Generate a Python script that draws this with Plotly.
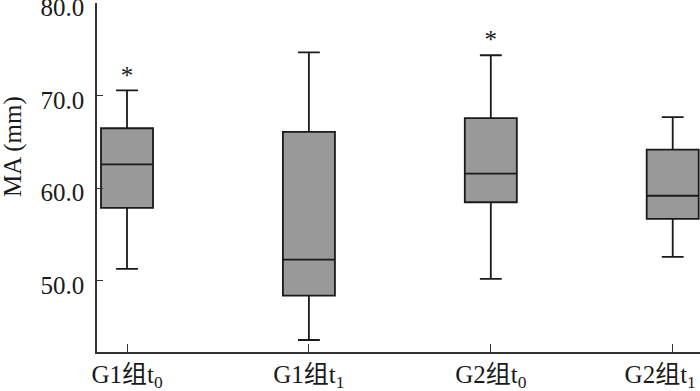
import plotly.graph_objects as go

categories = ["G1组t<sub>0</sub>", "G1组t<sub>1</sub>", "G2组t<sub>0</sub>",
              "G2组t<sub>1</sub>&nbsp;&nbsp;&nbsp;&nbsp;"]
lower_whisker = [51.3, 43.6, 50.2, 52.6]
q1_vals = [57.9, 48.4, 58.5, 56.7]
median_vals = [62.6, 52.3, 61.6, 59.2]
q3_vals = [66.5, 66.1, 67.6, 64.2]
upper_whisker = [70.6, 74.7, 74.4, 67.7]
star_idx = [0, 2]
star_y = [72.0, 75.9]
y_ticks = [50, 60, 70, 80]
y_ticklabels = ["50.0", "60.0", "70.0", "80.0"]

FONT = "Liberation Serif, Times New Roman, Noto Sans CJK SC, serif"
xpos = list(range(len(categories)))

fig = go.Figure()
fig.add_trace(go.Box(
    x=xpos,
    q1=q1_vals, median=median_vals, q3=q3_vals,
    lowerfence=lower_whisker, upperfence=upper_whisker,
    width=0.286, whiskerwidth=0.42,
    fillcolor="#999999",
    line=dict(color="#1a1a1a", width=1.8),
    boxpoints=False, showlegend=False, hoverinfo="skip",
))
fig.add_trace(go.Scatter(
    x=star_idx, y=star_y, mode="text", text=["*"] * len(star_idx),
    textposition="middle center",
    textfont=dict(family=FONT, size=25, color="#1a1a1a"),
    showlegend=False, hoverinfo="skip", cliponaxis=False,
))

fig.add_annotation(
    text="MA (mm)", textangle=-90, xref="paper", yref="paper",
    x=-0.139, y=0.588, showarrow=False, xanchor="center", yanchor="middle",
    font=dict(family=FONT, size=25, color="#1a1a1a"),
)

fig.update_layout(
    width=700, height=391,
    margin=dict(l=97, r=0, t=3, b=39, autoexpand=False),
    paper_bgcolor="white", plot_bgcolor="white",
    font=dict(family=FONT, size=25, color="#1a1a1a"),
    xaxis=dict(
        range=[-0.165, 3.15], tickmode="array", tickvals=xpos, ticktext=categories,
        showgrid=False, zeroline=False, showline=True, linecolor="#333333", linewidth=1.5,
        ticks="inside", ticklen=8, tickwidth=1.3, tickcolor="#333333",
        tickfont=dict(family=FONT, size=25, color="#1a1a1a"),
        automargin=False, ticklabeloverflow="allow", ticklabelstandoff=-1,
    ),
    yaxis=dict(
        range=[42.3, 80.05], tickmode="array", tickvals=y_ticks, ticktext=y_ticklabels,
        showgrid=False, zeroline=False, showline=True, linecolor="#333333", linewidth=1.5,
        ticks="inside", ticklen=6, tickwidth=1.3, tickcolor="#333333",
        tickfont=dict(family=FONT, size=25, color="#1a1a1a"),
        ticklabelstandoff=6, ticklabelshift=4, automargin=False, ticklabeloverflow="allow",
    ),
)

fig.write_html(
    "out.html",
    config={"displayModeBar": False},
    post_script="document.body.style.margin='0';document.body.style.overflow='hidden';",
)
